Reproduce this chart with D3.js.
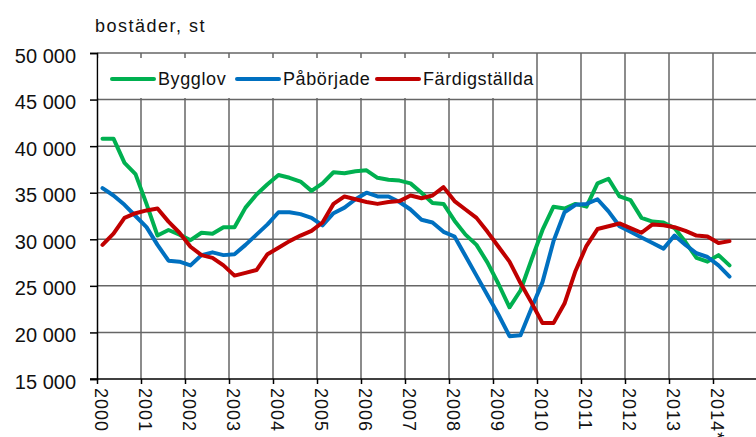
<!DOCTYPE html>
<html>
<head>
<meta charset="utf-8">
<script src="https://cdn.jsdelivr.net/npm/d3@7"></script>
<style>
  body { margin: 0; background: #fff; }
  svg { display: block; font-family: "Liberation Sans", Arial, sans-serif; }
</style>
</head>
<body>
<svg id="chart"></svg>
<script>
// quarterly series, 2000 K1 .. 2014 K2
const years = d3.range(2000, 2015);
const quarters = years.flatMap(y => [1, 2, 3, 4].map(q => ({ year: y, q: q }))).slice(0, 58);

const yearLabels = ["2000", "2001", "2002", "2003", "2004", "2005", "2006", "2007",
  "2008", "2009", "2010", "2011", "2012", "2013", "2014*"];
const yTicks = [15000, 20000, 25000, 30000, 35000, 40000, 45000, 50000];

const bygglov = [40800, 40800, 38200, 37000, 33800, 30400, 31000, 30500, 29900, 30700,
  30600, 31300, 31300, 33400, 34800, 35900, 36900, 36600, 36200, 35200,
  36000, 37200, 37100, 37300, 37400, 36600, 36400, 36300, 36000, 35000,
  33900, 33800, 32000, 30500, 29400, 27500, 25200, 22700, 24500, 27800,
  31000, 33500, 33300, 33800, 33500, 36000, 36500, 34600, 34200, 32300,
  31900, 31800, 31200, 29700, 28000, 27600, 28300, 27200];

const paborjade = [35500, 34700, 33700, 32500, 31300, 29400, 27700, 27600, 27200, 28300,
  28600, 28300, 28400, 29400, 30500, 31600, 32900, 32900, 32700, 32300,
  31500, 32800, 33400, 34300, 35000, 34600, 34600, 34000, 33200, 32100,
  31800, 30800, 30300, 28200, 26100, 24000, 21900, 19600, 19700, 22600,
  25400, 29800, 32900, 33700, 33800, 34300, 33000, 31400, 30800, 30200,
  29600, 29000, 30400, 29400, 28500, 28100, 27200, 26000];

const fardigstallda = [29400, 30600, 32300, 32800, 33100, 33300, 31900, 30700, 29200, 28300,
  28000, 27200, 26100, 26400, 26700, 28400, 29100, 29800, 30400, 30900,
  31800, 33800, 34600, 34300, 34000, 33800, 34000, 34100, 34700, 34400,
  34700, 35600, 34100, 33200, 32300, 30800, 29200, 27600, 25300, 23200,
  21000, 21000, 23100, 26600, 29300, 31100, 31400, 31700, 31200, 30700,
  31600, 31500, 31300, 30900, 30400, 30300, 29600, 29800];

const seriesNames = ["Bygglov", "Påbörjade", "Färdigställda"];
const seriesColors = ["#00b050", "#0070c0", "#c00000"];
const seriesValues = [bygglov, paborjade, fardigstallda];

const W = 756, H = 437;
const svg = d3.select("#chart").attr("width", W).attr("height", H);

const x = d3.scaleLinear().domain([2000, 2015]).range([97, 757]);
const y = d3.scaleLinear().domain([15000, 50000]).range([379, 53]);
const xPos = d => d.year + (d.q - 1) / 4 + 0.125;

// title
svg.append("text")
  .attr("x", 95).attr("y", 32)
  .attr("font-size", 18).attr("letter-spacing", 1.5)
  .attr("fill", "#111")
  .text("bostäder, st");

// grid
const grid = svg.append("g");
grid.selectAll("line.h").data(yTicks.slice(1)).enter().append("line")
  .attr("x1", 97).attr("x2", W)
  .attr("y1", d => y(d)).attr("y2", d => y(d))
  .attr("stroke", "#666").attr("stroke-width", 1.5);
grid.selectAll("line.v").data(years.slice(1)).enter().append("line")
  .attr("x1", d => x(d)).attr("x2", d => x(d))
  .attr("y1", 53).attr("y2", 379)
  .attr("stroke", "#666").attr("stroke-width", 1.5);

// y axis
const yAxis = svg.append("g")
  .attr("transform", "translate(97,0)")
  .call(d3.axisLeft(y).tickValues(yTicks).tickSize(7).tickPadding(14)
    .tickFormat(d => d3.format(",")(d).replace(",", " ")));
yAxis.select(".domain").attr("stroke", "#000").attr("stroke-width", 1.5);
yAxis.selectAll(".tick line").attr("stroke", "#000").attr("stroke-width", 1.5);
yAxis.selectAll(".tick text")
  .attr("font-size", 20).attr("fill", "#111")
  .attr("dy", "0.45em")
  .style("font-family", "'Liberation Sans', Arial, sans-serif");

// x axis
const xAxis = svg.append("g")
  .attr("transform", "translate(0,379)")
  .call(d3.axisBottom(x).tickValues(years).tickSize(5).tickFormat(""));
xAxis.select(".domain").attr("d", "M90,0H" + W).attr("stroke", "#000").attr("stroke-width", 1.5);
xAxis.selectAll(".tick line").attr("stroke", "#000").attr("stroke-width", 1.5);

svg.append("g").selectAll("text").data(years).enter().append("text")
  .attr("transform", d => `translate(${x(d) - 2},388) rotate(90)`)
  .attr("font-size", 18).attr("letter-spacing", 1)
  .attr("fill", "#111")
  .text((d, i) => yearLabels[i]);

// lines
const line = d3.line()
  .x((d, i) => x(xPos(quarters[i])))
  .y(d => y(d));

svg.append("g").selectAll("path").data(seriesValues).enter().append("path")
  .attr("d", d => line(d))
  .attr("fill", "none")
  .attr("stroke", (d, i) => seriesColors[i])
  .attr("stroke-width", 4)
  .attr("stroke-linejoin", "round")
  .attr("stroke-linecap", "round");

// legend
const legend = svg.append("g");
legend.append("rect")
  .attr("x", 98.5).attr("y", 58).attr("width", 436).attr("height", 40)
  .attr("fill", "#fff");
const legendX = [112, 237, 377];
seriesNames.forEach((name, i) => {
  legend.append("line")
    .attr("x1", legendX[i]).attr("x2", legendX[i] + 42)
    .attr("y1", 79).attr("y2", 79)
    .attr("stroke", seriesColors[i]).attr("stroke-width", 4)
    .attr("stroke-linecap", "round");
  legend.append("text")
    .attr("x", legendX[i] + 46).attr("y", 85)
    .attr("font-size", 18).attr("letter-spacing", 0.6)
    .attr("fill", "#111")
    .text(name);
});
</script>
</body>
</html>
